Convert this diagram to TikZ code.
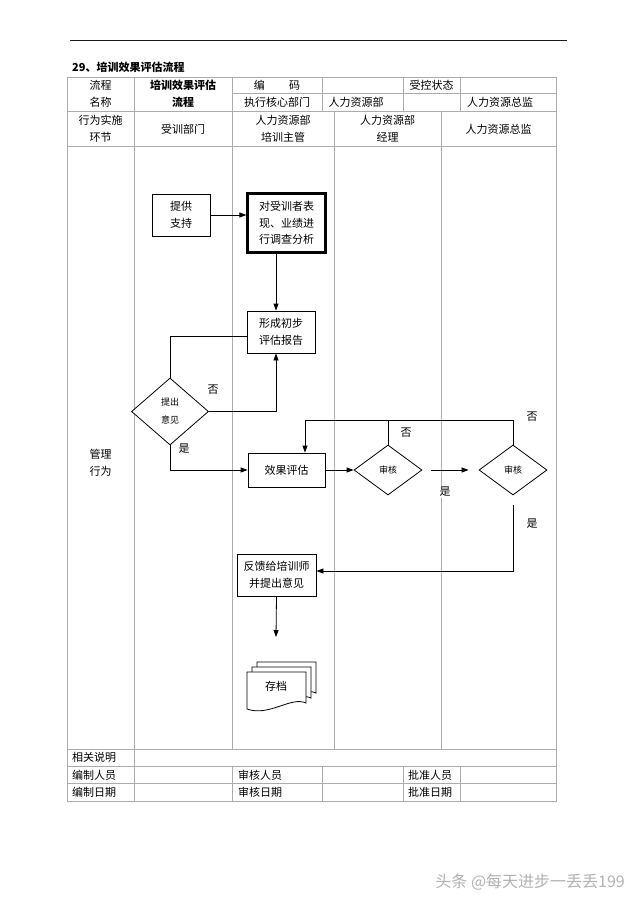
\documentclass[tikz,border=0pt]{standalone}
\usepackage{fontspec}
\newfontfamily\cjk{Noto Sans CJK SC}
\usetikzlibrary{arrows.meta,shapes.geometric}
\begin{document}
\begin{tikzpicture}[x=1pt,y=-1pt,
  tbl/.style={draw=gray!65,line width=0.8pt},
  txt/.style={font=\cjk\fontsize{11}{17}\selectfont, align=center, inner sep=0pt},
  btxt/.style={font=\cjk\bfseries\fontsize{11}{17}\selectfont, align=center, inner sep=0pt},
  ltxt/.style={font=\cjk\fontsize{11}{17}\selectfont, anchor=west, inner sep=0pt},
  box/.style={draw=black, line width=0.8pt, fill=white, align=center, inner sep=0pt, font=\cjk\fontsize{11}{16.5}\selectfont},
  dia/.style={draw=black, line width=0.8pt, diamond, fill=white, inner sep=0pt, align=center, font=\cjk\fontsize{9}{18}\selectfont},
  arr/.style={draw=black, line width=0.8pt, -{Triangle[length=7pt,width=5pt]}},
  con/.style={draw=black, line width=0.8pt},
  lbl/.style={font=\cjk\fontsize{11}{13}\selectfont, inner sep=1.5pt},
  docpic/.pic={\draw[line width=0.8pt, fill=white] (0,0) -- (59,0) -- (59,31) .. controls (44,24) and (22,45) .. (0,37) -- cycle;}
]
\useasboundingbox (0,0) rectangle (640,905);
\fill[white] (0,0) rectangle (640,905);

% top rule and title
\draw[line width=0.9pt, gray!20!black] (70,40) -- (567,40);
\node[btxt, anchor=west] (title) at (72,67) {29、培训效果评估流程};

% table frame
\draw[tbl] (67,77) rectangle (556,801);
\draw[tbl] (232,93) -- (556,93);
\draw[tbl] (67,111) -- (556,111);
\draw[tbl] (67,146) -- (556,146);
\draw[tbl] (67,749) -- (556,749);
\draw[tbl] (67,766) -- (556,766);
\draw[tbl] (67,783) -- (556,783);
\draw[tbl] (134,77) -- (134,801);
\draw[tbl] (232,77) -- (232,749);
\draw[tbl] (232,766) -- (232,801);
\foreach \xx in {322,403,460} {
  \draw[tbl] (\xx,77) -- (\xx,111);
  \draw[tbl] (\xx,766) -- (\xx,801);
}
\draw[tbl] (334,111) -- (334,749);
\draw[tbl] (441,111) -- (441,749);

% header texts
\node[txt] (h1) at (100.5,94) {流程\\名称};
\node[btxt] (h2) at (183,94) {培训效果评估\\流程};
\node[txt] (h3) at (277,85) {编\hspace{2.2em}码};
\node[txt] (h4) at (431.5,85) {受控状态};
\node[txt] (h5) at (277,102) {执行核心部门};
\node[txt] (h6) at (356,102) {人力资源部};
\node[txt] (h7) at (500,102) {人力资源总监};
\node[txt] (l1) at (100.5,128.5) {行为实施\\环节};
\node[txt] (l2) at (183,129) {受训部门};
\node[txt] (l3) at (283,128.5) {人力资源部\\培训主管};
\node[txt] (l4) at (387.5,128.5) {人力资源部\\经理};
\node[txt] (l5) at (498.5,129) {人力资源总监};
\node[txt] (mg) at (100.5,463) {管理\\行为};

% bottom texts
\node[ltxt] (b1) at (72,757.5) {相关说明};
\node[ltxt] (b2) at (72,775) {编制人员};
\node[ltxt] (b3) at (72,792) {编制日期};
\node[ltxt] (b4) at (238,775) {审核人员};
\node[ltxt] (b5) at (238,792) {审核日期};
\node[ltxt] (b6) at (408,775) {批准人员};
\node[ltxt] (b7) at (408,792) {批准日期};

% flow nodes
\node[box, minimum width=58pt, minimum height=42pt] (supp) at (181,215) {提供\\支持};
\node[box, line width=2.2pt, minimum width=78pt, minimum height=59pt] (anal) at (286.5,223) {对受训者表\\现、业绩进\\行调查分析};
\node[box, minimum width=68pt, minimum height=42pt] (init) at (281,332) {形成初步\\评估报告};
\node[dia, minimum width=77pt, minimum height=67pt] (tiyj) at (170,411.5) {提出\\意见};
\node[box, minimum width=77pt, minimum height=34pt] (xgpg) at (286.5,470) {效果评估};
\node[dia, minimum width=68pt, minimum height=50pt] (sh1) at (388,470) {审核};
\node[dia, minimum width=68pt, minimum height=50pt] (sh2) at (513,470) {审核};
\node[box, minimum width=79pt, minimum height=42pt] (fk) at (276.5,575) {反馈给培训师\\并提出意见};

% archive (multi document)
\pic at (257,662) {docpic};
\pic at (252,667) {docpic};
\pic at (247,672) {docpic};
\node[txt] (cd) at (276,686) {存档};

% coordinates
\coordinate (tl) at (305,420);
\coordinate (fkend) at (276,637);

% connectors
\draw[arr] (supp.east) -- (supp.east -| anal.west);
\draw[arr] (anal.south -| fkend) -- (init.north -| fkend);
\draw[con] ([yshift=-4pt]init.west) -| (tiyj.north);
\draw[arr] (tiyj.east) -| (init.south -| fkend);
\draw[arr] (tiyj.south) |- (xgpg.west);
\draw[arr] (xgpg.east) -- (sh1.west);
\draw[arr] (sh2.north) |- (tl) -- (tl |- xgpg.north);
\draw[con] (sh1.north) -- (sh1.north |- tl);
\draw[arr] ([xshift=9pt]sh1.east) -- ([xshift=-10pt]sh2.west);
\draw[arr] ([yshift=-10pt]sh2.south) |- ([yshift=4pt]fk.east);
\draw[arr] (fk.south) -- (fkend);

% labels
\node[lbl] (n1) at (213,390) {否};
\node[lbl] (y1) at (184,449) {是};
\node[lbl] (n2) at (406,433) {否};
\node[lbl] (n3) at (532,417) {否};
\node[lbl, fill=white] (y2) at (445,492) {是};
\node[lbl] (y3) at (532,524) {是};

% watermark
\node[font=\cjk\fontsize{16}{18}\selectfont, text=gray!60, anchor=east, inner sep=0pt] (wm) at (625,882) {头条 @每天进步一丢丢199};
\end{tikzpicture}
\end{document}
